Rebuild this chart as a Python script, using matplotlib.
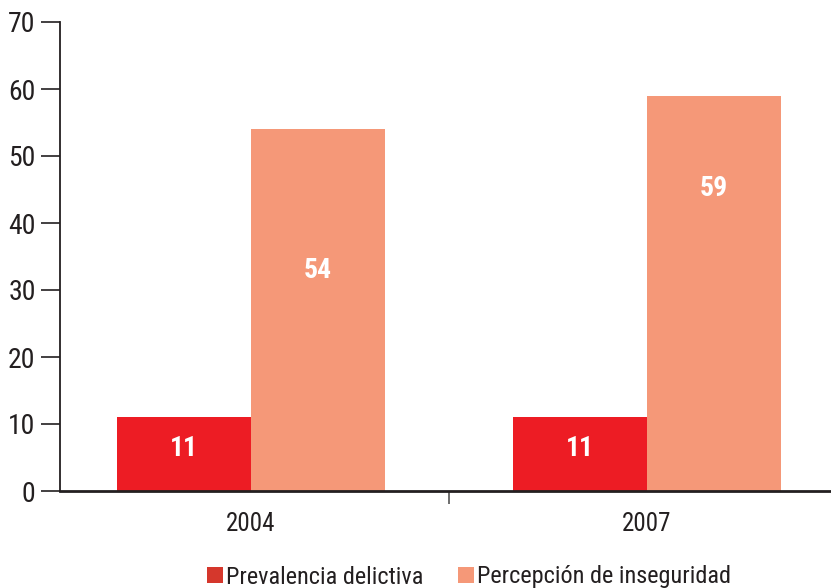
import matplotlib
matplotlib.use("Agg")
import matplotlib.pyplot as plt
import numpy as np
from matplotlib.patches import Patch

plt.rcParams['font.family'] = ['Roboto Condensed', 'DejaVu Sans']

years = ["2004", "2007"]
prevalencia = [11, 11]
percepcion = [54, 59]
series_names = ["Prevalencia delictiva", "Percepción de inseguridad"]
yticks = [0, 10, 20, 30, 40, 50, 60, 70]

bar_colors = ["#ED1C24", "#F59878"]
legend_colors = ["#D5372C", "#F59878"]
text_col = "#231F20"

fig = plt.figure(figsize=(8.31, 5.88), dpi=100)
ax = fig.add_axes([60/831, 1 - 491/588, 1 - 60/831, (491 - 22)/588])

x = np.arange(len(years))
w = 0.338
b1 = ax.bar(x - w/2, prevalencia, w, color=bar_colors[0], linewidth=0)
b2 = ax.bar(x + w/2, percepcion, w, color=bar_colors[1], linewidth=0)

# value labels (vertical placement as fraction of the bar height)
red_frac = [0.57, 0.57]
salmon_frac = [0.61, 0.765]
for rect, v, f in zip(b1, prevalencia, red_frac):
    ax.text(rect.get_x() + rect.get_width()/2, v*f, str(v), ha='center', va='center',
            color='white', fontsize=20, fontweight='bold')
for rect, v, f in zip(b2, percepcion, salmon_frac):
    ax.text(rect.get_x() + rect.get_width()/2, v*f, str(v), ha='center', va='center',
            color='white', fontsize=20, fontweight='bold')

ax.set_xlim(-0.482, 1.465)
ax.set_ylim(0, 70)
ax.set_yticks(yticks)
ax.set_yticklabels([str(t) for t in yticks])
ax.tick_params(axis='y', length=14, width=1.2, color=text_col, labelsize=20,
               labelcolor=text_col, pad=3.5)

ax.set_xticks([0.5])
ax.set_xticklabels([""])
ax.tick_params(axis='x', length=9, width=1.2, color="#555555")
for xi, yr in zip(x, years):
    ax.text(xi, -4.9, yr, ha='center', va='center', fontsize=18, color=text_col)

for s in ['top', 'right']:
    ax.spines[s].set_visible(False)
ax.spines['left'].set_color(text_col)
ax.spines['left'].set_linewidth(1.3)
ax.spines['bottom'].set_color(text_col)
ax.spines['bottom'].set_linewidth(2.0)

handles = [Patch(facecolor=c, edgecolor='none') for c in legend_colors]
fig.legend(handles, series_names, loc='center', bbox_to_anchor=(469/831, 1 - 577/588),
           ncol=2, frameon=False, fontsize=17.5, handlelength=0.66, handleheight=0.66,
           handletextpad=0.12, columnspacing=1.45, labelcolor=text_col, borderpad=0)

fig.savefig("out.png", dpi=100)
